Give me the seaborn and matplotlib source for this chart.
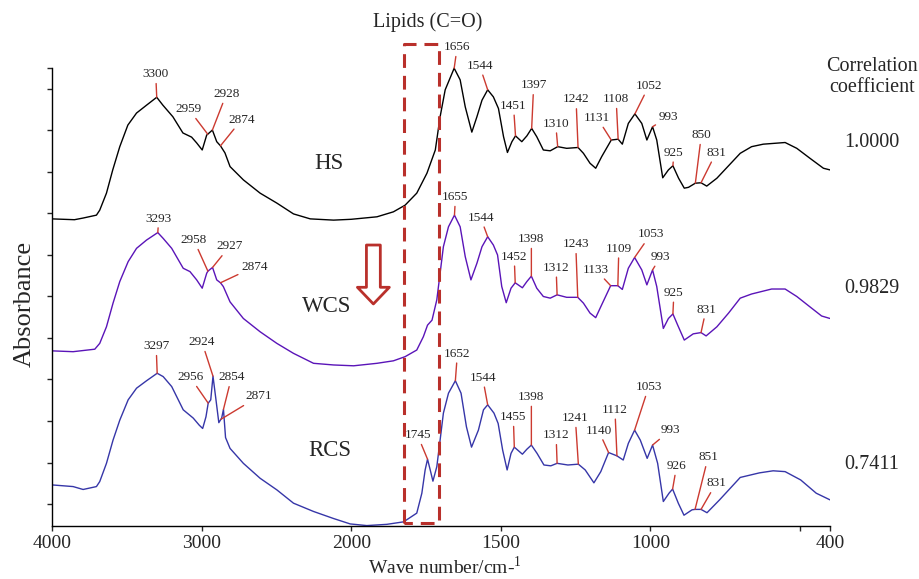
import numpy as np
import pandas as pd
import seaborn as sns
import matplotlib.pyplot as plt

# spectra (wave number, absorbance incl. stacking offset)
hs_wn = [4000, 3850, 3792, 3703, 3681, 3636, 3594, 3547, 3493, 3435, 3368, 3300, 3259, 3192, 3125,
         3067, 3033, 2996, 2966, 2959, 2928, 2899, 2874, 2844, 2810, 2721, 2609, 2497, 2386,
         2274, 2118, 2000, 1914, 1859, 1820, 1781, 1747, 1719, 1703, 1686, 1656, 1636, 1619,
         1597, 1580, 1563, 1544, 1525, 1508, 1491, 1478, 1463, 1451, 1430, 1413, 1397, 1380,
         1358, 1335, 1310, 1280, 1242, 1224, 1202, 1183, 1163, 1131, 1108, 1094, 1074, 1052,
         1029, 1012, 993, 979, 959, 940, 925, 906, 887, 873, 850, 831, 812, 778, 739, 700,
         662, 623, 550, 511, 467, 422, 400]
hs_abs = [0.687, 0.685, 0.689, 0.696, 0.708, 0.749, 0.805, 0.861, 0.913, 0.942, 0.961, 0.980, 0.961,
          0.933, 0.894, 0.884, 0.870, 0.853, 0.889, 0.891, 0.901, 0.873, 0.863, 0.846, 0.813,
          0.781, 0.749, 0.725, 0.699, 0.687, 0.684, 0.686, 0.692, 0.704, 0.720, 0.749, 0.797,
          0.853, 0.933, 0.998, 1.050, 1.022, 0.957, 0.896, 0.933, 0.973, 0.998, 0.981, 0.953,
          0.885, 0.847, 0.873, 0.887, 0.873, 0.887, 0.905, 0.885, 0.853, 0.851, 0.861, 0.857,
          0.859, 0.845, 0.821, 0.809, 0.837, 0.877, 0.879, 0.867, 0.917, 0.940, 0.917, 0.877,
          0.909, 0.877, 0.786, 0.805, 0.815, 0.785, 0.761, 0.763, 0.773, 0.774, 0.766, 0.785,
          0.815, 0.845, 0.861, 0.867, 0.871, 0.857, 0.833, 0.809, 0.805]

wcs_wn = [4000, 3859, 3714, 3681, 3636, 3592, 3547, 3491, 3435, 3368, 3293, 3257, 3200, 3123,
          3078, 3033, 2996, 2966, 2958, 2927, 2899, 2874, 2855, 2810, 2721, 2609, 2497, 2386,
          2252, 2118, 1992, 1914, 1859, 1820, 1781, 1759, 1745, 1730, 1714, 1703, 1692, 1675,
          1655, 1636, 1619, 1600, 1580, 1563, 1544, 1525, 1511, 1497, 1482, 1466, 1452, 1428,
          1413, 1398, 1380, 1358, 1335, 1312, 1280, 1243, 1224, 1202, 1183, 1163, 1133, 1109,
          1094, 1074, 1053, 1029, 1012, 993, 979, 957, 940, 925, 909, 887, 857, 831, 814, 778,
          739, 700, 662, 595, 550, 511, 467, 428, 400]
wcs_abs = [0.369, 0.367, 0.373, 0.387, 0.427, 0.484, 0.536, 0.584, 0.616, 0.636, 0.654, 0.640,
           0.616, 0.568, 0.560, 0.540, 0.520, 0.556, 0.561, 0.570, 0.540, 0.533, 0.524, 0.487,
           0.447, 0.415, 0.387, 0.363, 0.339, 0.335, 0.333, 0.339, 0.345, 0.355, 0.371, 0.403,
           0.431, 0.443, 0.492, 0.556, 0.620, 0.668, 0.696, 0.668, 0.596, 0.540, 0.580, 0.620,
           0.644, 0.624, 0.600, 0.524, 0.485, 0.520, 0.533, 0.521, 0.536, 0.549, 0.520, 0.500,
           0.496, 0.504, 0.498, 0.498, 0.484, 0.460, 0.449, 0.480, 0.526, 0.526, 0.517, 0.568,
           0.594, 0.564, 0.528, 0.564, 0.524, 0.423, 0.447, 0.458, 0.431, 0.395, 0.410, 0.413,
           0.405, 0.427, 0.460, 0.496, 0.506, 0.518, 0.518, 0.500, 0.475, 0.453, 0.447]

rcs_wn = [4000, 3859, 3792, 3703, 3681, 3636, 3592, 3547, 3491, 3435, 3368, 3297, 3257, 3200,
          3123, 3056, 3016, 2993, 2971, 2956, 2939, 2924, 2904, 2885, 2866, 2854, 2840, 2810,
          2721, 2609, 2497, 2386, 2252, 2118, 2007, 1948, 1881, 1825, 1781, 1764, 1753, 1745,
          1736, 1727, 1714, 1703, 1692, 1675, 1652, 1633, 1615, 1598, 1575, 1558, 1544, 1523,
          1509, 1494, 1479, 1466, 1455, 1428, 1413, 1398, 1379, 1356, 1333, 1312, 1276, 1241,
          1218, 1189, 1166, 1140, 1112, 1091, 1074, 1053, 1034, 1011, 993, 976, 957, 938, 926,
          907, 888, 861, 851, 831, 811, 769, 700, 636, 590, 550, 498, 446, 423, 400]
rcs_abs = [0.046, 0.042, 0.035, 0.042, 0.054, 0.098, 0.154, 0.202, 0.251, 0.279, 0.297, 0.315,
           0.307, 0.283, 0.227, 0.207, 0.190, 0.182, 0.210, 0.243, 0.251, 0.308, 0.251, 0.196,
           0.207, 0.228, 0.160, 0.134, 0.098, 0.062, 0.034, 0.002, -0.018, -0.035, -0.048,
           -0.052, -0.049, -0.043, -0.022, 0.026, 0.082, 0.108, 0.082, 0.055, 0.090, 0.154,
           0.219, 0.267, 0.297, 0.267, 0.186, 0.137, 0.178, 0.227, 0.239, 0.219, 0.194, 0.130,
           0.082, 0.122, 0.137, 0.120, 0.132, 0.142, 0.122, 0.094, 0.092, 0.098, 0.094, 0.096,
           0.082, 0.051, 0.078, 0.124, 0.116, 0.106, 0.146, 0.178, 0.154, 0.110, 0.142, 0.098,
           0.006, 0.026, 0.036, 0.002, -0.027, -0.014, -0.013, -0.013, -0.021, 0.010, 0.064,
           0.075, 0.080, 0.078, 0.058, 0.026, 0.018, 0.010]

# labelled peaks and where their labels sit (offset in pixels from the peak)
hs_peaks = [3300, 2959, 2928, 2874, 1656, 1544, 1451, 1397, 1310, 1242, 1131, 1108, 1052, 993, 925, 850, 831]
hs_offs = [(-1, 23), (-19, 25), (14, 36), (21, 26), (3, 21), (-8, 24), (-2, 30), (2, 43), (-2, 23),
           (-2, 48), (-14, 22), (-2, 40), (14, 28), (16, 10), (1, 13), (6, 48), (15, 30)]
wcs_peaks = [3293, 2958, 2927, 2874, 1655, 1544, 1452, 1398, 1312, 1243, 1133, 1109, 1053, 993, 925, 831]
wcs_offs = [(1, 14), (-14, 31), (17, 21), (34, 16), (1, 18), (-7, 19), (-1, 26), (0, 37), (-1, 27),
            (-2, 53), (-15, 16), (1, 37), (16, 23), (8, 13), (1, 21), (5, 23)]
rcs_peaks = [3297, 2956, 2924, 2871, 2854, 1745, 1652, 1544, 1455, 1398, 1312, 1241, 1140, 1112,
             1053, 993, 926, 851, 831]
rcs_offs = [(-1, 27), (-18, 26), (-11, 34), (38, 23), (8, 32), (-10, 24), (2, 27), (-5, 27), (-1, 30),
            (0, 48), (-1, 28), (-3, 46), (-10, 22), (-2, 46), (14, 43), (18, 15), (4, 23), (13, 52), (15, 26)]

samples = ["HS", "WCS", "RCS"]
corr = [1.0000, 0.9829, 0.7411]
colors = ["black", "#5A14B8", "#3636A8"]
red = "#CC3A30"
dark_red = "#B9302B"

df = pd.concat([
    pd.DataFrame({"wn": hs_wn, "A": hs_abs, "sample": "HS"}),
    pd.DataFrame({"wn": wcs_wn, "A": wcs_abs, "sample": "WCS"}),
    pd.DataFrame({"wn": rcs_wn, "A": rcs_abs, "sample": "RCS"}),
])

sns.set_style("ticks")
plt.rcParams["font.family"] = "Liberation Serif"
plt.rcParams["mathtext.fontset"] = "custom"
plt.rcParams["mathtext.rm"] = "Liberation Serif"

fig = plt.figure(figsize=(9.2, 5.79), dpi=100)
ax = fig.add_axes([52 / 920, 1 - 526 / 579, 778 / 920, 486 / 579])

for s, c in zip(samples, colors):
    sns.lineplot(data=df[df["sample"] == s], x="wn", y="A", color=c, lw=1.0,
                 estimator=None, sort=False, ax=ax)


# x axis is stretched twice below 2000 cm-1
def fwd(x):
    x = np.asarray(x, dtype=float)
    return np.where(x >= 2000, x, 2 * x - 2000)


def inv(y):
    y = np.asarray(y, dtype=float)
    return np.where(y >= 2000, y, (y + 2000) / 2)


ax.set_xscale("function", functions=(fwd, inv))
ax.set_xlim(4000, 400)
ax.set_ylim(-0.053, 1.118)
ax.set_xticks([4000, 3000, 2000, 1500, 1000, 500, 400])
ax.set_xticklabels(["4000", "3000", "2000", "1500", "1000", "", "400"])
ax.set_yticks(list(np.arange(0, 1.01, 0.1)) + [1.05])
ax.tick_params(axis="y", labelleft=False, direction="out", length=3.8, width=1)
ax.tick_params(axis="x", direction="out", length=3.8, width=1, labelsize=14, pad=3)
ax.minorticks_off()
for side in ["top", "right"]:
    ax.spines[side].set_visible(False)
ax.spines["left"].set_bounds(-0.053, 1.05)
for side in ["left", "bottom"]:
    ax.spines[side].set_linewidth(1.0)
    ax.spines[side].set_color("black")

ax.set_xlabel("Wave number/cm-$^{\\mathregular{1}}$", fontsize=14)
ax.set_ylabel("Absorbance", fontsize=19)
ax.xaxis.set_label_coords(0.505, -0.061)
ax.yaxis.set_label_coords(-0.021, 0.457)

# peak labels
for wn, a, peaks, offs in [(hs_wn, hs_abs, hs_peaks, hs_offs),
                           (wcs_wn, wcs_abs, wcs_peaks, wcs_offs),
                           (rcs_wn, rcs_abs, rcs_peaks, rcs_offs)]:
    xs = np.array(wn, dtype=float)[::-1]
    ys = np.array(a)[::-1]
    for p, (dx, dy) in zip(peaks, offs):
        ax.annotate(str(p), xy=(p, np.interp(p, xs, ys)), xytext=(dx, dy),
                    textcoords="offset pixels", ha="center", va="center", fontsize=9.5,
                    arrowprops=dict(arrowstyle="-", color=red, lw=1, shrinkA=0, shrinkB=0))

# sample names
ax.text(2152, 0.821, "HS", fontsize=16.5, ha="center", va="center")
ax.text(2163, 0.477, "WCS", fontsize=16.5, ha="center", va="center")
ax.text(2145, 0.128, "RCS", fontsize=16.5, ha="center", va="center")

# lipid C=O region box
ax.plot([1823, 1823, 1706, 1706, 1823], [-0.046, 1.108, 1.108, -0.046, -0.046],
        color=dark_red, lw=2.2, ls=(0, (4.5, 2.6)), clip_on=False)
ax.text(1745, 1.161, "Lipids (C=O)", fontsize=14.5, ha="center", va="center")

# hollow down arrow
ax.annotate("", xy=(1926, 0.482), xytext=(1926, 0.624),
            arrowprops=dict(arrowstyle="simple,head_length=0.6,head_width=1.15,tail_width=0.5",
                            fc="white", ec=dark_red, lw=2, mutation_scale=20,
                            shrinkA=0, shrinkB=0))

# correlation coefficients
fig.text(0.948, 0.885, "Correlation", fontsize=14.5, ha="center", va="center")
fig.text(0.948, 0.849, "coefficient", fontsize=14.5, ha="center", va="center")
for val, yy in zip(corr, [0.7535, 0.502, 0.1986]):
    fig.text(0.948, yy, f"{val:.4f}", fontsize=14.5, ha="center", va="center")

fig.savefig("out.png", dpi=100)
